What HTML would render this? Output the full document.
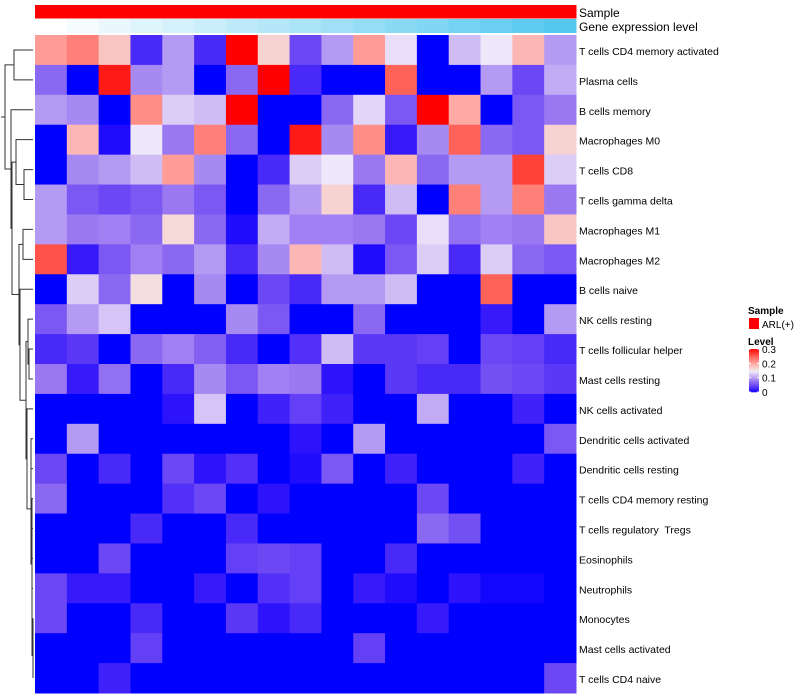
<!DOCTYPE html>
<html><head><meta charset="utf-8">
<style>
body{margin:0;background:#fff;}
svg{display:block;font-family:"Liberation Sans",Arial,sans-serif;}
text{white-space:pre;}
</style></head>
<body>
<svg id="chart" width="800" height="700"></svg>
<script>
const rowNames=["T cells CD4 memory activated","Plasma cells","B cells memory","Macrophages M0","T cells CD8","T cells gamma delta","Macrophages M1","Macrophages M2","B cells naive","NK cells resting","T cells follicular helper","Mast cells resting","NK cells activated","Dendritic cells activated","Dendritic cells resting","T cells CD4 memory resting","T cells regulatory  Tregs","Eosinophils","Neutrophils","Monocytes","Mast cells activated","T cells CD4 naive"];
const r0=[0.21,0.23,0.18,0.03,0.1,0.03,0.3,0.17,0.05,0.1,0.21,0.14,0,0.12,0.145,0.19,0.1];
const r1=[0.07,0,0.29,0.09,0.1,0,0.07,0.3,0.03,0,0,0.25,0,0,0.1,0.05,0.11];
const r2=[0.1,0.09,0,0.22,0.13,0.12,0.3,0,0,0.07,0.135,0.06,0.3,0.2,0,0.06,0.08];
const r3=[0,0.19,0.01,0.145,0.08,0.23,0.07,0,0.29,0.09,0.22,0.02,0.09,0.25,0.07,0.06,0.17];
const r4=[0,0.09,0.1,0.12,0.21,0.09,0,0.03,0.13,0.145,0.08,0.19,0.07,0.1,0.1,0.27,0.13];
const r5=[0.1,0.06,0.05,0.06,0.08,0.06,0,0.07,0.1,0.17,0.03,0.12,0,0.23,0.1,0.23,0.08];
const r6=[0.1,0.08,0.085,0.07,0.165,0.07,0.01,0.11,0.085,0.085,0.08,0.05,0.14,0.075,0.085,0.08,0.18];
const r7=[0.26,0.02,0.06,0.085,0.07,0.1,0.03,0.09,0.19,0.12,0.01,0.06,0.13,0.03,0.13,0.07,0.06];
const r8=[0,0.13,0.07,0.16,0,0.09,0,0.05,0.03,0.1,0.1,0.12,0,0,0.25,0,0];
const r9=[0.06,0.1,0.125,0,0,0,0.09,0.06,0,0,0.07,0,0,0,0.02,0,0.1];
const r10=[0.03,0.04,0,0.07,0.085,0.065,0.03,0,0.035,0.12,0.04,0.04,0.045,0,0.05,0.045,0.03];
const r11=[0.08,0.02,0.075,0,0.03,0.09,0.06,0.085,0.08,0.015,0,0.04,0.03,0.03,0.055,0.05,0.04];
const r12=[0,0,0,0,0.015,0.125,0,0.025,0.045,0.025,0,0,0.11,0,0,0.025,0];
const r13=[0,0.1,0,0,0,0,0,0,0.015,0,0.1,0,0,0,0,0,0.06];
const r14=[0.05,0,0.03,0,0.05,0.015,0.035,0,0.01,0.06,0,0.025,0,0,0,0.025,0];
const r15=[0.07,0,0,0,0.035,0.05,0,0.015,0,0,0,0,0.05,0,0,0,0];
const r16=[0,0,0,0.03,0,0,0.03,0,0,0,0,0,0.07,0.055,0,0,0];
const r17=[0,0,0.05,0,0,0,0.045,0.05,0.045,0,0,0.03,0,0,0,0,0];
const r18=[0.05,0.02,0.02,0,0,0.02,0,0.035,0.045,0,0.02,0.01,0,0.015,0.005,0.005,0];
const r19=[0.05,0,0,0.03,0,0,0.04,0.015,0.03,0,0,0,0.02,0,0,0,0];
const r20=[0,0,0,0.045,0,0,0,0,0,0,0.045,0,0,0,0,0,0];
const r21=[0,0,0.025,0,0,0,0,0,0,0,0,0,0,0,0,0,0.05];
const values=[r0,r1,r2,r3,r4,r5,r6,r7,r8,r9,r10,r11,r12,r13,r14,r15,r16,r17,r18,r19,r20,r21];
const legendTicks=[0,0.1,0.2,0.3];

const NS="http://www.w3.org/2000/svg";
const svg=document.getElementById('chart');
function mk(t,a,p){const e=document.createElementNS(NS,t);for(const k in a)e.setAttribute(k,a[k]);(p||svg).appendChild(e);return e;}
const X0=35,X1=576,Y0=35,Y1=693,nC=r0.length,nR=values.length;
const cw=(X1-X0)/nC,rh=(Y1-Y0)/nR;
const xPos=c=>X0+c*cw, yPos=r=>Y0+r*rh;
function col(v){let t=Math.max(0,Math.min(1,v/0.3));let r,g,b;
 if(t<0.5){const s=t*2;r=245*Math.pow(s,0.75);g=240*Math.pow(s,1.1);b=255-13*Math.sin(Math.PI*s*0.9);}
 else{const u=(t-0.5)*2;r=240+15*Math.min(1,u*3);g=235*Math.pow(1-u,0.8);b=238*Math.pow(1-u,0.9);}
 return `rgb(${Math.round(r)},${Math.round(g)},${Math.round(b)})`;}

const ann=mk('g',{});


for(let c=0;c<nC;c++){
 const s=mk('rect',{x:xPos(c),y:5,width:cw+0.5,height:13.5,fill:'#ff0000'},ann);
 
 
 const f=c/(nC-1);
 const g=mk('rect',{x:xPos(c),y:19,width:cw+0.5,height:14,fill:`rgb(${Math.round(255-170*f)},${Math.round(255-55*f)},${Math.round(255-15*f)})`},ann);
 
 
}
let t=mk('text',{x:579,y:17,'font-size':12,fill:'#000'});t.textContent='Sample';


t=mk('text',{x:579,y:31,'font-size':12,fill:'#000'});t.textContent='Gene expression level';



const cells=mk('g',{});


values.forEach((row,r)=>{row.forEach((v,c)=>{
 const e=mk('rect',{x:xPos(c),y:yPos(r),width:cw+0.5,height:rh+0.5,fill:col(v)},cells);
 
 
});
 const l=mk('text',{x:579,y:yPos(r)+rh/2+5,'font-size':10.5,fill:'#000'});
 l.textContent=rowNames[r];
 
 
});

const tree=[5,[14,0,1],[11,2,[12,[16,3,[24,4,5]],[19,[23,6,7],[20,8,[26,[28,9,[29,10,11]],[27,12,[31,[31,13,14],[32,[32,15,16],[32,[32,17,18],[33,[33,19,20],21]]]]]]]]]]];
const dg=mk('g',{stroke:'#333','stroke-width':1,fill:'none'});


function draw(n){ if(typeof n==='number') return {x:33,y:yPos(n)+rh/2};
 const a=draw(n[1]),b=draw(n[2]),x=n[0];
 mk('path',{d:`M${a.x},${a.y}H${x}V${b.y}H${b.x}`},dg);
 return {x:x,y:(a.y+b.y)/2};}
const root=draw(tree); mk('path',{d:`M${root.x},${root.y}H1`},dg);

const lg=mk('g',{});


t=mk('text',{x:748,y:314,'font-size':10,'font-weight':'bold'},lg);t.textContent='Sample';
const sq=mk('rect',{x:749,y:318,width:10,height:11,fill:'#ff0000'},lg);


t=mk('text',{x:762,y:328,'font-size':10},lg);t.textContent='ARL(+)';
t=mk('text',{x:748,y:345,'font-size':10,'font-weight':'bold'},lg);t.textContent='Level';
const LB0=349,LB1=392;
for(let i=0;i<40;i++){const v=0.3*(1-i/40);mk('rect',{x:749,y:LB0+i*(LB1-LB0)/40,width:10,height:(LB1-LB0)/40+0.3,fill:col(v)},lg);}
legendTicks.forEach(v=>{const y=LB1-(v/0.3)*(LB1-LB0);
 mk('line',{x1:749,x2:751,y1:y,y2:y,stroke:'#fff'},lg);mk('line',{x1:757,x2:759,y1:y,y2:y,stroke:'#fff'},lg);
 const tt=mk('text',{x:762,y:y+4,'font-size':10},lg);tt.textContent=String(v);
 
 });
</script>
</body></html>
